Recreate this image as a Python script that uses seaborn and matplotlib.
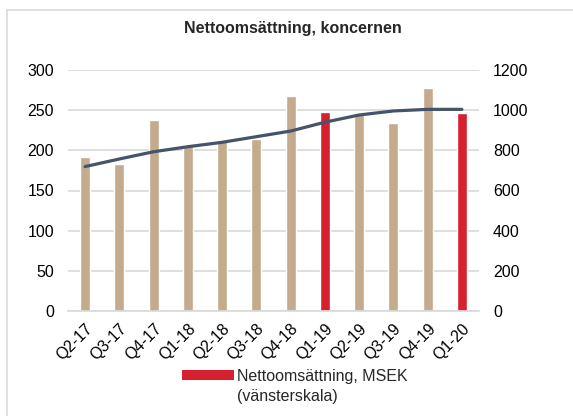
import matplotlib
matplotlib.use("Agg")
import matplotlib.pyplot as plt
import seaborn as sns
import pandas as pd
import numpy as np
from matplotlib.patches import Patch
from matplotlib.lines import Line2D

quarters = ["Q2-17", "Q3-17", "Q4-17", "Q1-18", "Q2-18", "Q3-18", "Q4-18",
            "Q1-19", "Q2-19", "Q3-19", "Q4-19", "Q1-20"]
sales = [192, 183, 238, 207, 213, 214, 268, 248, 246, 234, 278, 247]
rolling12 = [719, 757, 793, 818, 840, 868, 896, 940, 976, 996, 1004, 1004]
highlight = [False, False, False, False, False, False, False, True, False, False, False, True]
title = "Nettoomsättning, koncernen"
legend_line1 = "Nettoomsättning, MSEK"
legend_line2 = "(vänsterskala)"

sns.set_theme(style="white")
plt.rcParams["font.family"] = ["Liberation Sans", "DejaVu Sans"]
FS = 11.5

W, H = 573, 416
fig = plt.figure(figsize=(W / 100, H / 100), dpi=100)
L, R, B, T = 68, 479, 311, 70
ax = fig.add_axes([L / W, 1 - B / H, (R - L) / W, (B - T) / H])

tan = "#C4AB8E"
red = "#D7202F"
df = pd.DataFrame({"q": quarters, "v": sales,
                   "grp": ["hl" if h else "base" for h in highlight]})
sns.barplot(data=df, x="q", y="v", hue="grp", palette={"base": tan, "hl": red},
            dodge=False, width=0.29, ax=ax, legend=False, saturation=1)

ax.set_ylim(0, 300)
ax.set_yticks(range(0, 301, 50))
ax.set_xlim(-0.5, len(quarters) - 0.5)
ax.grid(axis="y", color="#D9D9D9", linewidth=1.2)
ax.set_axisbelow(True)
for s in ["top", "right", "left"]:
    ax.spines[s].set_visible(False)
ax.spines["bottom"].set_color("#D9D9D9")
ax.spines["bottom"].set_linewidth(1.2)
ax.set_xlabel("")
ax.set_ylabel("")
ax.tick_params(axis="y", length=0, labelsize=FS, pad=10, colors="black")
ax.tick_params(axis="x", which="major", length=0, labelsize=FS, pad=7, colors="black")
ax.set_xticks(np.arange(-0.5, len(quarters), 1), minor=True)
ax.tick_params(axis="x", which="minor", length=4, color="#D9D9D9", width=1.2)
plt.setp(ax.get_xticklabels(), rotation=45, ha="right", rotation_mode="anchor")

ax2 = ax.twinx()
ldf = pd.DataFrame({"x": np.arange(len(quarters)), "y": rolling12})
sns.lineplot(data=ldf, x="x", y="y", ax=ax2, color="#44546A", linewidth=2.3)
ax2.set_ylim(0, 1200)
ax2.set_yticks(range(0, 1201, 200))
ax2.set_xlim(-0.5, len(quarters) - 0.5)
for s in ["top", "right", "left", "bottom"]:
    ax2.spines[s].set_visible(False)
ax2.set_ylabel("")
ax2.set_xlabel("")
ax2.tick_params(axis="y", length=0, labelsize=FS, pad=10, colors="black")
ax2.grid(False)

fig.text(293 / W, 1 - 28 / H, title, ha="center", va="center",
         fontsize=FS, fontweight="bold")

handles = [Patch(facecolor=red, edgecolor="none", label=legend_line1),
           Patch(facecolor="none", edgecolor="none", label=legend_line2)]
fig.legend(handles=handles, loc="upper left",
           bbox_to_anchor=(182 / W, 1 - 369 / H), frameon=False,
           fontsize=FS, handlelength=3.25, handleheight=0.56, handletextpad=0.2,
           labelspacing=0.3, borderpad=0, borderaxespad=0)

fig.add_artist(Line2D([7 / W, 7 / W], [0, 1 - 10 / H], color="#D9D9D9", lw=1.2))
fig.add_artist(Line2D([7 / W, 1], [1 - 10 / H, 1 - 10 / H], color="#D9D9D9", lw=1.2))

fig.savefig("out.png", dpi=100)
